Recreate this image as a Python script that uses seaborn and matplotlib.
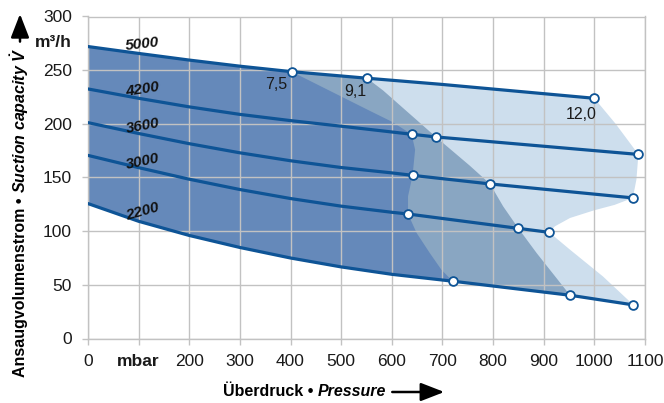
import numpy as np
import pandas as pd
import seaborn as sns
import matplotlib.pyplot as plt
from matplotlib.transforms import blended_transform_factory

# --- data -----------------------------------------------------------------
# characteristic curves (pressure in mbar -> suction capacity in m3/h)
speeds = ["5000", "4200", "3600", "3000", "2200"]
c5000_x = [0, 100, 200, 300, 402, 551, 695, 1000]
c5000_y = [272, 265.6, 259.4, 253.7, 248.6, 242.5, 236.9, 223.8]
c4200_x = [0, 100, 200, 300, 400, 500, 639, 687, 1087]
c4200_y = [232.5, 223.8, 215.8, 208.8, 203, 197.8, 190.3, 187.8, 171.5]
c3600_x = [0, 100, 200, 300, 400, 500, 600, 641, 794, 1076]
c3600_y = [201.1, 191, 181.5, 173, 165.6, 159.3, 154.3, 152, 144, 131]
c3000_x = [0, 100, 200, 300, 400, 500, 600, 632, 850, 911]
c3000_y = [170.6, 159.2, 148.4, 138.8, 130.4, 123.3, 117.6, 116, 102.6, 98.9]
c2200_x = [0, 100, 200, 300, 400, 500, 600, 720, 952, 1077]
c2200_y = [125.7, 109.2, 96, 84.8, 75, 66.7, 59.8, 53.4, 40.3, 31.3]

# motor power limits (kW), right-hand edges of the shaded areas
power_labels = ["7,5", "9,1", "12,0"]
p75_x = [402, 557, 600, 639, 646, 641, 632, 632, 649, 675, 698, 720]
p75_y = [248.6, 212, 202, 190.3, 176, 152, 132.5, 116, 98.3, 79.6, 64, 53.4]
p91_x = [551, 583, 687, 754, 794, 820, 850, 886, 952]
p91_y = [242.5, 231, 187.8, 161, 144, 123, 102.6, 79.6, 40.3]
p120_x = [1000, 1042, 1087, 1083, 1076, 1040, 1000, 952, 922, 911, 952, 1017, 1077]
p120_y = [223.8, 200, 171.5, 148, 131, 124.5, 119.5, 112.3, 104.5, 98.9, 82.7, 57.8, 31.3]

# operating points (open circles) where the power limits hit the curves
mark_x = [402, 639, 641, 632, 720,
          551, 687, 794, 850, 952,
          1000, 1087, 1076, 911, 1077]
mark_y = [248.6, 190.3, 152, 116, 53.4,
          242.5, 187.8, 144, 102.6, 40.3,
          223.8, 171.5, 131, 98.9, 31.3]

x_ticks = list(range(0, 1101, 100))
x_ticklabels = ["0", "mbar", "200", "300", "400", "500", "600", "700", "800", "900", "1000", "1100"]
y_ticks = list(range(0, 301, 50))

# --- style -------------------------------------------------------------------
sns.set_theme(style="whitegrid")
plt.rcParams['font.family'] = ['Liberation Sans', 'DejaVu Sans']
plt.rcParams['mathtext.fontset'] = 'custom'
plt.rcParams['mathtext.it'] = 'Liberation Sans:italic:bold'
plt.rcParams['mathtext.rm'] = 'Liberation Sans:bold'

LINE = "#0e5496"
FILLS = {"12,0": "#cddeed", "9,1": "#89a6c2", "7,5": "#6589ba"}
GRID = "#c2c2c2"

W, H = 664, 403
fig = plt.figure(figsize=(W / 100, H / 100), dpi=100)
ax = fig.add_axes([88 / W, 1 - 338.5 / H, (645 - 88) / W, (338.5 - 16.5) / H])

# shaded areas: top curve up to the limit, limit edge, bottom curve back
def region(edge_x, edge_y):
    tx = [x for x in c5000_x if x < edge_x[0]]
    ty = [y for x, y in zip(c5000_x, c5000_y) if x < edge_x[0]]
    bx = [x for x in c2200_x if x < edge_x[-1]][::-1]
    by = [y for x, y in zip(c2200_x, c2200_y) if x < edge_x[-1]][::-1]
    return tx + edge_x + bx, ty + edge_y + by

for lab, ex, ey in [("12,0", p120_x, p120_y), ("9,1", p91_x, p91_y), ("7,5", p75_x, p75_y)]:
    px, py = region(ex, ey)
    ax.fill(px, py, color=FILLS[lab], lw=0, zorder=1)

# curves
curves = pd.concat([
    pd.DataFrame({"p": x, "q": y, "speed": s})
    for s, x, y in zip(speeds,
                       [c5000_x, c4200_x, c3600_x, c3000_x, c2200_x],
                       [c5000_y, c4200_y, c3600_y, c3000_y, c2200_y])
])
sns.lineplot(data=curves, x="p", y="q", hue="speed", palette={s: LINE for s in speeds},
             estimator=None, sort=False, lw=2.3, legend=False, ax=ax, zorder=3)
sns.scatterplot(x=mark_x, y=mark_y, color="white", edgecolor=LINE, linewidth=1.3,
                s=40, ax=ax, zorder=4)

# curve labels
curve_lab_pos = [(108, 274.2, 6.5), (108, 232.2, 9), (108, 197.9, 10.5), (107, 165.2, 12), (108, 118.5, 15.5)]
for s, (x, y, r) in zip(speeds, curve_lab_pos):
    ax.text(x, y, s, rotation=r, rotation_mode="anchor", ha="center", va="center",
            fontsize=11, fontweight="bold", fontstyle="italic", color="#111111", zorder=5)

# power labels
for lab, (x, y) in zip(power_labels, [(372, 237), (527, 230.5), (973, 209)]):
    ax.text(x, y, lab, ha="center", va="center", fontsize=11.5, color="#1a1a1a", zorder=5)

# axes
ax.set_xlim(0, 1100)
ax.set_ylim(0, 300)
ax.set_xticks(x_ticks)
ax.set_xticklabels(x_ticklabels)
ax.set_yticks(y_ticks)
ax.set_xlabel("")
ax.set_ylabel("")
ax.set_axisbelow(False)
ax.grid(True, color=GRID, lw=1.0, zorder=2)
ax.set_facecolor("white")
for sp in ax.spines.values():
    sp.set_color(GRID)
    sp.set_linewidth(1.0)
ax.tick_params(axis="both", which="both", length=4.5, width=1.0, color=GRID,
               labelsize=12.5, labelcolor="#1a1a1a")
ax.tick_params(axis="x", pad=7, bottom=True)
ax.tick_params(axis="y", pad=7, left=True)
for t in ax.get_xticklabels():
    if t.get_text() == "mbar":
        t.set_fontweight("bold")

trans = blended_transform_factory(ax.transAxes, ax.transData)
ax.text(-0.029, 276, "m\u00b3/h", transform=trans, ha="right", va="center",
        fontsize=12.5, fontweight="bold", color="#1a1a1a")

# axis titles built from pieces (bold + bold italic) plus arrows
renderer = fig.canvas.get_renderer()

def run(x, y, pieces, rotation):
    for txt, style in pieces:
        t = fig.text(x / W, y / H, txt, rotation=rotation, rotation_mode="anchor",
                     ha="left", va="center", fontsize=11.5, fontweight="bold",
                     color="black", **style)
        bb = t.get_window_extent(renderer)
        if rotation == 0:
            x += bb.width
        else:
            y += bb.height
    return x, y

ex, ey = run(223, H - 392, [("\u00dcberdruck \u2022 ", {}), ("Pressure", {"fontstyle": "italic"})], 0)
ax.annotate("", xy=(ex + 58, ey), xytext=(ex + 6, ey), xycoords="figure pixels",
            textcoords="figure pixels",
            arrowprops=dict(arrowstyle="-|>,head_length=0.9,head_width=0.35", color="black",
                            lw=1.8, shrinkA=0, shrinkB=0, mutation_scale=16))

ex, ey = run(20, H - 377, [("Ansaugvolumenstrom \u2022 ", {}),
                            (r"Suction capacity $\dot{V}$", {"fontstyle": "italic"})], 90)
ax.annotate("", xy=(ex, H - 14), xytext=(ex, ey + 6), xycoords="figure pixels",
            textcoords="figure pixels",
            arrowprops=dict(arrowstyle="-|>,head_length=0.9,head_width=0.35", color="black",
                            lw=1.8, shrinkA=0, shrinkB=0, mutation_scale=16))

fig.savefig("out.png", dpi=100)
